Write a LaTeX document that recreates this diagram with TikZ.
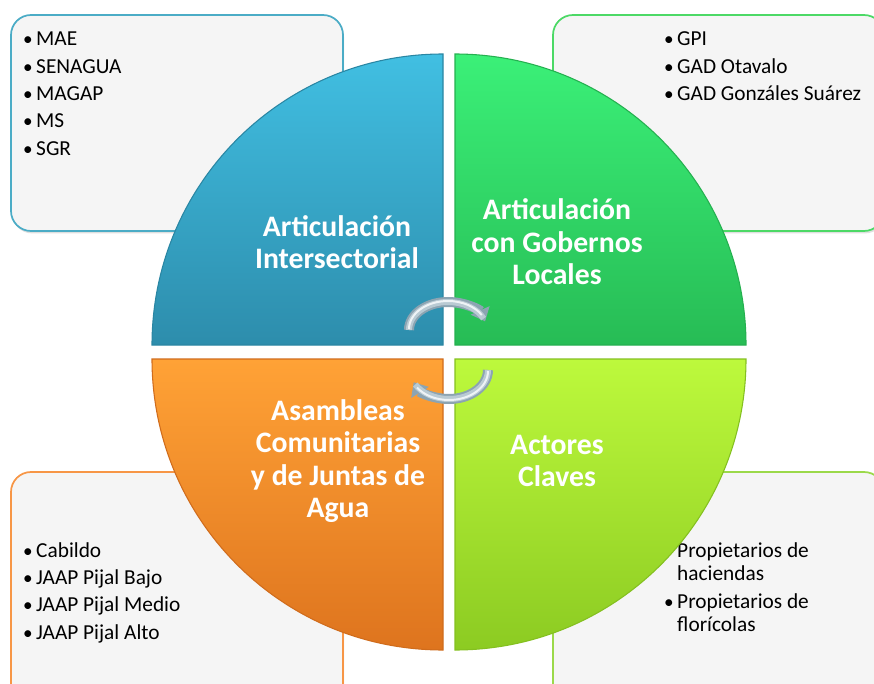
\documentclass[tikz,border=0pt]{standalone}
\usepackage{fontspec}
\setmainfont{Carlito}
\usepackage{xcolor}
\usetikzlibrary{calc}
\usetikzlibrary{positioning}
\usetikzlibrary{arrows.meta}
\usetikzlibrary{shadows}

\definecolor{boxgray}{HTML}{F5F5F5}
\definecolor{tlTop}{HTML}{41BFE2}
\definecolor{tlBot}{HTML}{2D8DAC}
\definecolor{tlEdge}{HTML}{2A86A3}
\definecolor{trTop}{HTML}{3BF078}
\definecolor{trBot}{HTML}{27BC55}
\definecolor{trEdge}{HTML}{25B050}
\definecolor{blTop}{HTML}{FFA236}
\definecolor{blBot}{HTML}{DE741E}
\definecolor{blEdge}{HTML}{D06C1C}
\definecolor{brTop}{HTML}{BDF93C}
\definecolor{brBot}{HTML}{8CCB22}
\definecolor{brEdge}{HTML}{84C020}
\definecolor{tlLine}{HTML}{4BACC6}
\definecolor{trLine}{HTML}{4CD966}
\definecolor{blLine}{HTML}{F79646}
\definecolor{brLine}{HTML}{9BD94A}
\definecolor{arcGray}{HTML}{8CA4B2}
\definecolor{arcMid}{HTML}{B9CAD3}
\definecolor{arcShine}{HTML}{EEF3F6}

\tikzset{
  listbox/.style={fill=boxgray, rounded corners=15pt, line width=1.3pt,
    drop shadow={opacity=0.25, shadow xshift=0.8pt, shadow yshift=-1.8pt}},
  listitem/.style={anchor=base west, inner sep=0pt, font=\fontsize{16}{20.5}\selectfont},
  wedgetext/.style={align=center, text=white, inner sep=0pt,
    font=\fontsize{22.3}{24.4}\selectfont\bfseries},
  cycarrow/.style={line width=7.5pt, color=arcGray, -{Triangle[width=15pt,length=9pt]}},
  cycmid/.style={line width=4.5pt, color=arcMid},
  cycshine/.style={line width=1.5pt, color=arcShine}
}
\newcommand{\blt}{\makebox[8.6pt][l]{\hspace{-1.2pt}\scalebox{0.9}{•}}}

\begin{document}
\begin{tikzpicture}[x=0.75pt,y=0.75pt]
  \useasboundingbox (0,0) rectangle (874,683);

  \draw[listbox, draw=tlLine] (11,452) rectangle (343,668);
  \draw[listbox, draw=trLine] (553,452) rectangle (884,668);
  \draw[listbox, draw=blLine] (11,211) rectangle (343,-20);
  \draw[listbox, draw=brLine] (553,211) rectangle (884,-20);

  \foreach \t [count=\i] in {MAE,SENAGUA,MAGAP,MS,SGR}
    \node[listitem] (tl\i) at (24.5,637-27.3*\i+27.3) {\blt\t};
  \foreach \t [count=\i] in {GPI,GAD Otavalo,GAD Gonzáles Suárez}
    \node[listitem] (tr\i) at (665.5,637-27.3*\i+27.3) {\blt\t};
  \foreach \t [count=\i] in {Cabildo,JAAP Pijal Bajo,JAAP Pijal Medio,JAAP Pijal Alto}
    \node[listitem] (bl\i) at (24.5,125.7-27.3*\i+27.3) {\blt\t};
  \foreach \y/\b/\t [count=\i] in {125.7/\hspace{8.6pt}/Propietarios de, 102.3/\hspace{8.6pt}/haciendas,
                                   74.7/\blt/Propietarios de, 52/\hspace{8.6pt}/florícolas}
    \node[listitem] (br\i) at (665.5,\y) {\b\t};

  \shadedraw[top color=tlTop, bottom color=tlBot, draw=tlEdge, line width=0.8pt]
    (443,338) -- (152,338) arc (180:90:291) -- cycle;
  \shadedraw[top color=trTop, bottom color=trBot, draw=trEdge, line width=0.8pt]
    (455,338) -- (455,629) arc (90:0:291) -- cycle;
  \shadedraw[top color=blTop, bottom color=blBot, draw=blEdge, line width=0.8pt]
    (443,324) -- (152,324) arc (180:270:291) -- cycle;
  \shadedraw[top color=brTop, bottom color=brBot, draw=brEdge, line width=0.8pt]
    (455,324) -- (746,324) arc (0:-90:291) -- cycle;

  \node[wedgetext] (interLbl) at (337,441) {Articulación\\Intersectorial};
  \node[wedgetext] (gobLbl) at (557,441) {Articulación\\con Gobernos\\Locales};
  \node[wedgetext] (asamLbl) at (338,222) {Asambleas\\Comunitarias\\y de Juntas de\\Agua};
  \node[wedgetext] (actLbl) at (557,222) {Actores\\Claves};

  \coordinate (topArc) at (409,353);
  \coordinate (botArc) at (488,313);
  \draw[cycarrow] (topArc) arc (180:18:39 and 28);
  \draw[cycmid] (topArc) arc (180:24:39 and 28);
  \draw[cycshine] (topArc) ++(0,1) arc (180:30:39 and 28);
  \draw[cycarrow] (botArc) arc (0:-155:39 and 29);
  \draw[cycmid] (botArc) arc (0:-150:39 and 29);
  \draw[cycshine] (botArc) ++(0,-1) arc (0:-145:39 and 29);
\end{tikzpicture}
\end{document}
